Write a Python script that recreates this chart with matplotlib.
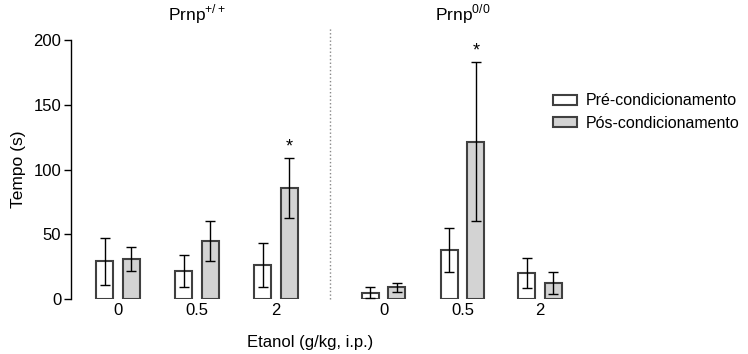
import numpy as np
import matplotlib
matplotlib.use("Agg")
import matplotlib.pyplot as plt
from matplotlib.patches import Patch

plt.rcParams['font.family'] = ['Liberation Sans', 'DejaVu Sans']
plt.rcParams['mathtext.fontset'] = 'custom'
plt.rcParams['mathtext.rm'] = 'Liberation Sans'

# data
doses = ['0', '0.5', '2']
genotypes = [r'Prnp$^{\mathrm{+/+}}$', r'Prnp$^{\mathrm{0/0}}$']
pre_mean = [29, 21.5, 26, 5, 38, 20]
pre_sem = [18, 12.5, 17, 4, 17, 11.5]
pos_mean = [31, 45, 85.5, 9, 121.5, 12.5]
pos_sem = [9.5, 15.5, 23, 3.5, 61.5, 8.3]
stars = [False, False, True, False, True, False]

# group centres (left group, right group)
centers = np.array([0, 1, 2, 3.36, 4.36, 5.34])
off = 0.168
w = 0.215
edge = '#404040'
grey = '#d3d3d3'

fig = plt.figure(figsize=(7.48, 3.54), dpi=100)
ax = fig.add_axes([71 / 748, 55 / 354, 529 / 748, 259 / 354])

err_kw = dict(ecolor='black', elinewidth=1, capsize=3.6, capthick=1)
ax.bar(centers - off, pre_mean, w, yerr=pre_sem, color='white',
       edgecolor=edge, linewidth=1.5, error_kw=err_kw, zorder=2)
ax.bar(centers + off, pos_mean, w, yerr=pos_sem, color=grey,
       edgecolor=edge, linewidth=1.5, error_kw=err_kw, zorder=2)

for i, s in enumerate(stars):
    if s:
        ax.text(centers[i] + off, pos_mean[i] + pos_sem[i] + 2, '*',
                ha='center', va='bottom', fontsize=13)

ax.set_xlim(-0.595, 6.1)
ax.set_ylim(0, 200)
ax.set_yticks([0, 50, 100, 150, 200])
ax.set_xticks(centers)
ax.set_xticklabels(doses * 2)
ax.tick_params(axis='x', length=0, labelsize=12, pad=3)
ax.tick_params(axis='y', length=5, width=1, labelsize=12, pad=2)
for sp in ['top', 'right', 'bottom']:
    ax.spines[sp].set_visible(False)
ax.spines['left'].set_linewidth(1)

# dotted divider
ax.plot([2.68, 2.68], [0, 209], ls=':', color='#888888', lw=1, clip_on=False)

for g, x in zip(genotypes, [1, 4.36]):
    ax.text(x, 211, g, ha='center', va='bottom', fontsize=12.5)

ax.set_ylabel('Tempo (s)', fontsize=12.5, labelpad=5)
fig.text(310 / 748, 1 - 343 / 354, 'Etanol (g/kg, i.p.)', ha='center',
         va='center', fontsize=12)

handles = [Patch(facecolor='white', edgecolor=edge, linewidth=1.5),
           Patch(facecolor=grey, edgecolor=edge, linewidth=1.5)]
fig.legend(handles, ['Pré-condicionamento', 'Pós-condicionamento'],
           loc='upper left', bbox_to_anchor=(539 / 748, 1 - 79 / 354),
           frameon=False, fontsize=11.5, handlelength=1.5, handleheight=0.6,
           labelspacing=0.45, handletextpad=0.5)

fig.savefig('out.png', dpi=100)
